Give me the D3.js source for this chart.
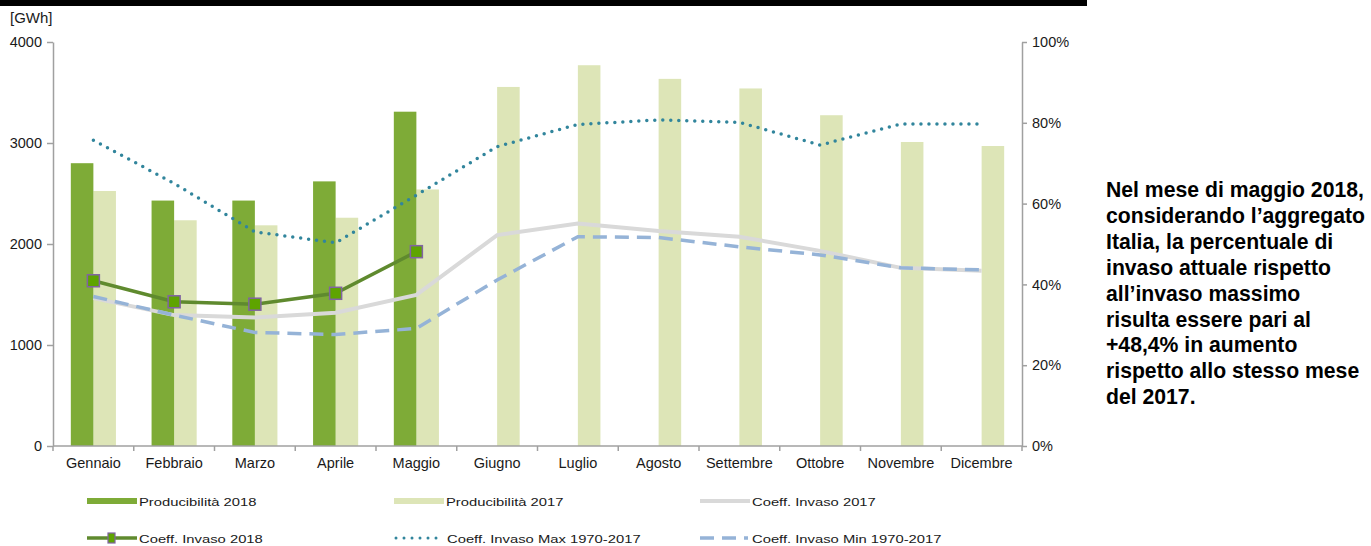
<!DOCTYPE html>
<html>
<head>
<meta charset="utf-8">
<script src="https://cdn.jsdelivr.net/npm/d3@7"></script>
<style>
  html, body { margin: 0; padding: 0; background: #fff; }
  svg { display: block; font-family: "Liberation Sans", Arial, sans-serif; }
</style>
</head>
<body>
<svg id="chart" width="1371" height="546"></svg>
<script>
// Months on the category axis
const months = ['Gennaio', 'Febbraio', 'Marzo', 'Aprile', 'Maggio', 'Giugno',
  'Luglio', 'Agosto', 'Settembre', 'Ottobre', 'Novembre', 'Dicembre'];

// Producibilità [GWh]
const prod2018 = [2800, 2430, 2430, 2620, 3310];
const prod2017 = [2525, 2235, 2185, 2260, 2540, 3555, 3770, 3635, 3540, 3275, 3010, 2970];

// Coefficiente di invaso [%]
const inv2018 = [40.9, 35.7, 35.1, 37.8, 48.1];
const inv2017 = [36.6, 32.4, 31.8, 33.0, 37.4, 52.2, 55.1, 53.2, 51.8, 48.3, 44.1, 43.4];
const invMax = [75.7, 65.0, 53.0, 50.3, 62.1, 74.1, 79.6, 80.7, 80.1, 74.5, 79.7, 79.7];
const invMin = [37.0, 32.4, 28.1, 27.6, 29.1, 41.1, 51.8, 51.6, 49.3, 47.3, 44.1, 43.6];

// Axis ticks
const leftTicks = [0, 1000, 2000, 3000, 4000];
const rightTicks = [0, 20, 40, 60, 80, 100];

const noteLines = [
  'Nel mese di maggio 2018,',
  'considerando l\u2019aggregato',
  'Italia, la percentuale di',
  'invaso attuale rispetto',
  'all\u2019invaso massimo',
  'risulta essere pari al',
  '+48,4% in aumento',
  'rispetto allo stesso mese',
  'del 2017.'
];

const C = {
  bar18: '#7eab37',
  bar17: '#dde5b7',
  line18: '#5f8a2e',
  marker: '#5ea400',
  markerStroke: '#8064a2',
  gray: '#d9d9d9',
  max: '#31859c',
  min: '#95b3d7',
  axis: '#a0a0a0',
  text: '#1a1a1a'
};

const svg = d3.select('#chart');
const plot = { left: 53, right: 1022, top: 42, bottom: 446 };

const x = d3.scaleBand().domain(months).range([plot.left, plot.right]).paddingInner(0).paddingOuter(0);
const xi = d3.scaleBand().domain(['2018', '2017']).range([0, x.bandwidth()]).paddingInner(0).paddingOuter(0.79);
const yL = d3.scaleLinear().domain([0, 4000]).range([plot.bottom, plot.top]);
const yR = d3.scaleLinear().domain([0, 100]).range([plot.bottom, plot.top]);

// top rule
svg.append('rect').attr('x', 0).attr('y', 0).attr('width', 1087).attr('height', 6).attr('fill', '#000');

// bars
const barG = svg.append('g');
barG.selectAll('rect.b17').data(prod2017).join('rect')
  .attr('class', 'b17')
  .attr('x', (d, i) => x(months[i]) + xi('2017'))
  .attr('y', d => yL(d))
  .attr('width', xi.bandwidth())
  .attr('height', d => yL(0) - yL(d))
  .attr('fill', C.bar17);
barG.selectAll('rect.b18').data(prod2018).join('rect')
  .attr('class', 'b18')
  .attr('x', (d, i) => x(months[i]) + xi('2018'))
  .attr('y', d => yL(d))
  .attr('width', xi.bandwidth())
  .attr('height', d => yL(0) - yL(d))
  .attr('fill', C.bar18);

// lines on the percentage axis
const cx = i => x(months[i]) + x.bandwidth() / 2;
const line = d3.line().x((d, i) => cx(i)).y(d => yR(d));

svg.append('path').datum(inv2017).attr('d', line)
  .attr('fill', 'none').attr('stroke', C.gray).attr('stroke-width', 4);
svg.append('path').datum(invMin).attr('d', line)
  .attr('fill', 'none').attr('stroke', C.min).attr('stroke-width', 3.5)
  .attr('stroke-dasharray', '14,8');
svg.append('path').datum(invMax).attr('d', line)
  .attr('fill', 'none').attr('stroke', C.max).attr('stroke-width', 3.5)
  .attr('stroke-linecap', 'round').attr('stroke-dasharray', '0,8');
svg.append('path').datum(inv2018).attr('d', line)
  .attr('fill', 'none').attr('stroke', C.line18).attr('stroke-width', 3.5);
svg.selectAll('rect.mk').data(inv2018).join('rect')
  .attr('class', 'mk')
  .attr('x', (d, i) => cx(i) - 6)
  .attr('y', d => yR(d) - 6)
  .attr('width', 12).attr('height', 12)
  .attr('fill', C.marker).attr('stroke', C.markerStroke).attr('stroke-width', 1.5);

// axes
const styleAxis = g => {
  g.select('.domain').attr('stroke', C.axis).attr('stroke-width', 1.5);
  g.selectAll('.tick line').attr('stroke', C.axis).attr('stroke-width', 1.5);
  g.selectAll('.tick text').attr('fill', C.text).attr('font-size', 14.5);
};

svg.append('g').attr('transform', `translate(${plot.left},0)`)
  .call(d3.axisLeft(yL).tickValues(leftTicks).tickSize(6).tickSizeOuter(0).tickPadding(5).tickFormat(d3.format('d')))
  .call(styleAxis);

svg.append('g').attr('transform', `translate(${plot.right},0)`)
  .call(d3.axisRight(yR).tickValues(rightTicks).tickSize(5).tickSizeOuter(0).tickPadding(5).tickFormat(d => d + '%'))
  .call(styleAxis);

const xAxis = svg.append('g').attr('transform', `translate(0,${plot.bottom})`)
  .call(d3.axisBottom(x).tickSize(0).tickPadding(12))
  .call(styleAxis);
xAxis.select('.domain').remove();
xAxis.append('line').attr('x1', plot.left).attr('x2', plot.right).attr('y1', 0).attr('y2', 0)
  .attr('stroke', C.axis).attr('stroke-width', 1.5);
xAxis.selectAll('line.bt').data(months.concat(['end'])).join('line')
  .attr('class', 'bt')
  .attr('x1', d => d === 'end' ? plot.right : x(d))
  .attr('x2', d => d === 'end' ? plot.right : x(d))
  .attr('y1', 0).attr('y2', 5)
  .attr('stroke', C.axis).attr('stroke-width', 1.5);

// unit label
svg.append('text').attr('x', 10).attr('y', 23).attr('font-size', 15).attr('fill', C.text).text('[GWh]');

// legend
const legend = [
  { label: 'Producibilità 2018', type: 'bar', color: C.bar18, col: 0, row: 0 },
  { label: 'Producibilità 2017', type: 'bar', color: C.bar17, col: 1, row: 0 },
  { label: 'Coeff. Invaso 2017', type: 'line', color: C.gray, col: 2, row: 0 },
  { label: 'Coeff. Invaso 2018', type: 'marker', color: C.line18, col: 0, row: 1 },
  { label: 'Coeff. Invaso Max 1970-2017', type: 'dot', color: C.max, col: 1, row: 1 },
  { label: 'Coeff. Invaso Min 1970-2017', type: 'dash', color: C.min, col: 2, row: 1 }
];
const colX = [87, 394, 700];
const rowY = [501, 538];
const lg = svg.append('g');
legend.forEach(it => {
  const g = lg.append('g').attr('transform', `translate(${colX[it.col]},${rowY[it.row]})`);
  if (it.type === 'bar') {
    g.append('rect').attr('x', 0).attr('y', -3).attr('width', 50).attr('height', 6).attr('fill', it.color);
  } else if (it.type === 'line') {
    g.append('line').attr('x1', 0).attr('x2', 50).attr('stroke', it.color).attr('stroke-width', 4);
  } else if (it.type === 'marker') {
    g.append('line').attr('x1', 0).attr('x2', 50).attr('stroke', it.color).attr('stroke-width', 3.5);
    g.append('rect').attr('x', 21).attr('y', -5).attr('width', 7).attr('height', 10)
      .attr('fill', C.marker).attr('stroke', C.markerStroke).attr('stroke-width', 1.2);
  } else if (it.type === 'dot') {
    g.append('line').attr('x1', 2).attr('x2', 44).attr('stroke', it.color).attr('stroke-width', 3)
      .attr('stroke-linecap', 'round').attr('stroke-dasharray', '0,8');
  } else if (it.type === 'dash') {
    g.append('line').attr('x1', 0).attr('x2', 48).attr('stroke', it.color).attr('stroke-width', 3.5)
      .attr('stroke-dasharray', '14,8');
  }
  const tx = it.type === 'dot' ? 53 : 52;
  g.append('text').attr('transform', `translate(${tx},4.5) scale(1.32,1)`)
    .attr('font-size', 11.2).attr('fill', C.text).text(it.label);
});

// side note
const note = svg.append('text').attr('font-weight', 'bold').attr('font-size', 21.2).attr('fill', '#000')
  .attr('transform', 'translate(1106,197)');
note.selectAll('tspan').data(noteLines).join('tspan')
  .attr('x', 0).attr('dy', (d, i) => i === 0 ? 0 : 25.9).text(d => d);
</script>
</body>
</html>
